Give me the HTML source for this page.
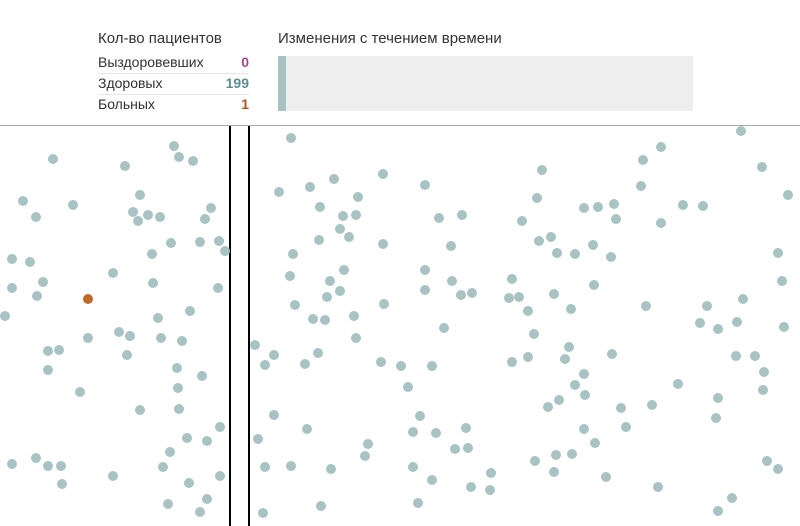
<!DOCTYPE html>
<html><head><meta charset="utf-8"><style>
body{margin:0;width:800px;height:526px;overflow:hidden;background:#fff;font-family:"Liberation Sans",sans-serif;position:relative}
.t{position:absolute;color:#333}
.row{position:absolute;left:98px;width:151px;height:21px;font-size:14px;color:#333;border-bottom:1px solid #e6e6e6;box-sizing:border-box;line-height:19px}
.row b{position:absolute;right:0;top:0}
</style></head><body>
<div class="t" style="left:98px;top:30px;font-size:15px">Кол-во пациентов</div>
<div class="row" style="top:53px">Выздоровевших<b style="color:#9b4d8a">0</b></div>
<div class="row" style="top:74px">Здоровых<b style="color:#5f8c93">199</b></div>
<div class="row" style="top:95px;border-bottom:none">Больных<b style="color:#b0521c">1</b></div>
<div class="t" style="left:278px;top:30px;font-size:15px">Изменения с течением времени</div>
<div style="position:absolute;left:278px;top:56px;width:415px;height:55px;background:#eee"><div style="width:8px;height:55px;background:#a9c3c4"></div></div>
<div style="position:absolute;left:0;top:125px;width:800px;height:1px;background:#aaa"></div>
<svg id="sim" width="800" height="526" style="position:absolute;left:0;top:0">
<line x1="230" y1="126" x2="230" y2="526" stroke="#000" stroke-width="2"/>
<line x1="249" y1="126" x2="249" y2="526" stroke="#000" stroke-width="2"/>
</svg>
<script>
const healthyX=[53,125,174,179,193,23,36,73,140,133,138,148,160,211,205,12,30,43,12,37,113,152,171,200,219,225,153,218,5,190,158,119,130,88,161,182,48,59,127,48,177,202,178,80,140,179,220,187,207,36,12,48,61,113,163,170,220,62,189,207,168,200,
291,741,643,661,762,279,310,334,358,383,425,320,343,356,340,349,319,383,439,462,451,542,537,522,584,598,614,641,616,661,683,703,788,539,551,557,575,593,611,778,293,290,330,344,340,327,295,384,425,425,452,461,472,512,509,519,554,594,782,313,325,354,356,444,528,534,571,646,707,743,700,718,737,784,255,274,265,305,318,381,401,432,512,528,569,565,612,736,755,764,408,584,575,585,678,718,763,548,559,621,652,274,420,307,413,436,466,584,626,716,258,368,455,468,595,365,413,291,265,331,535,556,572,554,491,432,606,767,778,471,490,658,321,418,263,732,718];
const healthyY=[159,166,146,157,161,201,217,205,195,212,221,215,217,208,219,259,262,282,288,296,273,254,243,242,241,251,283,288,316,311,318,332,336,338,338,341,351,350,355,370,368,376,388,392,410,409,427,438,441,458,464,466,466,476,467,452,476,484,483,499,504,512,
138,131,160,147,167,192,187,179,197,174,185,207,216,215,229,237,240,244,218,215,246,170,198,221,208,207,204,186,219,223,205,206,195,241,237,253,254,245,257,253,254,276,281,270,291,297,305,304,270,290,281,295,293,279,298,297,294,285,281,319,320,316,338,328,311,334,309,306,306,299,323,329,322,327,345,355,365,364,353,362,366,366,362,357,347,359,354,356,356,372,387,374,385,395,384,398,390,407,400,408,405,415,416,429,432,433,428,429,427,418,439,444,449,448,443,456,467,466,467,469,461,455,454,472,473,480,477,461,469,487,490,487,506,503,513,498,511];
const sickX=[88];
const sickY=[299];
const svg=document.getElementById('sim');
function dot(x,y,c,n){const e=document.createElementNS('http://www.w3.org/2000/svg','circle');
e.setAttribute('cx',x);e.setAttribute('cy',y);e.setAttribute('r',5);e.setAttribute('fill',c);


svg.appendChild(e);}
healthyX.forEach((x,i)=>dot(x,healthyY[i],'#a9c3c4','healthy-patient'));
sickX.forEach((x,i)=>dot(x,sickY[i],'#c0692a','sick-patient'));
</script>
</body></html>
